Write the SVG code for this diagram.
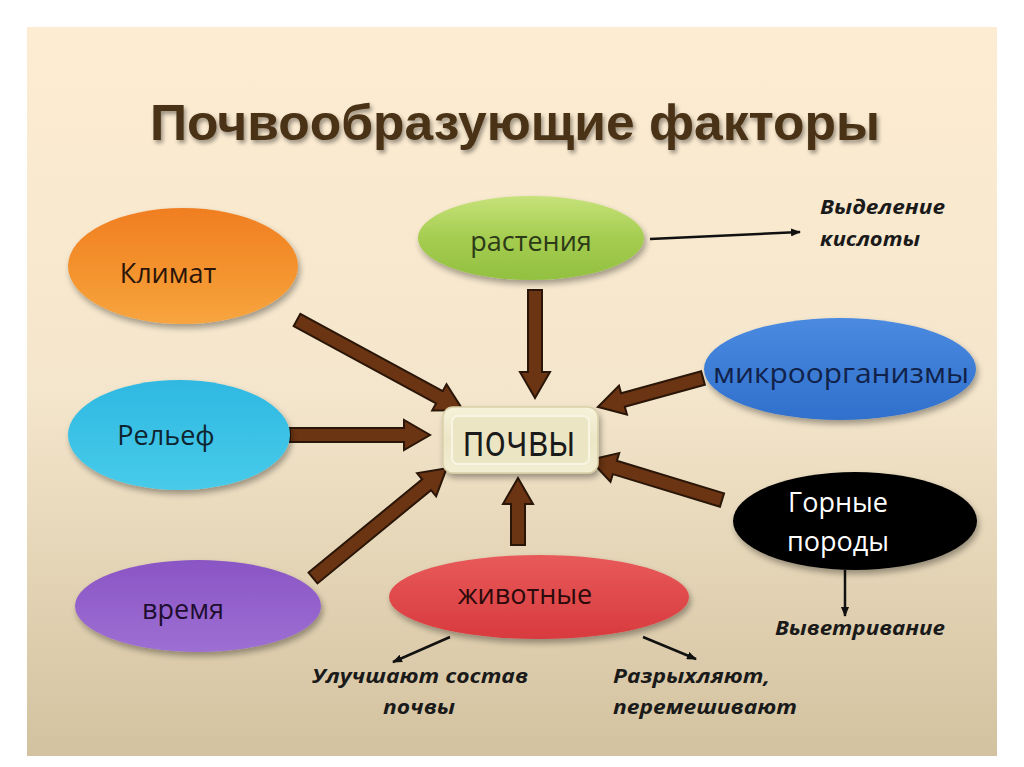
<svg xmlns="http://www.w3.org/2000/svg" width="1024" height="767" viewBox="0 0 1024 767">
  <defs>
    <linearGradient id="bg" x1="0" y1="0" x2="0" y2="1">
      <stop offset="0" stop-color="#fdecd2"/>
      <stop offset="0.5" stop-color="#f4e6cc"/>
      <stop offset="1" stop-color="#d3c29f"/>
    </linearGradient>
    <linearGradient id="gOrange" x1="0" y1="0" x2="0" y2="1">
      <stop offset="0" stop-color="#f07e22"/>
      <stop offset="0.6" stop-color="#f4952f"/>
      <stop offset="1" stop-color="#f7a540"/>
    </linearGradient>
    <linearGradient id="gCyan" x1="0" y1="0" x2="0" y2="1">
      <stop offset="0" stop-color="#2fb8e2"/>
      <stop offset="1" stop-color="#47cbea"/>
    </linearGradient>
    <linearGradient id="gPurple" x1="0" y1="0" x2="0" y2="1">
      <stop offset="0" stop-color="#8a55c4"/>
      <stop offset="1" stop-color="#9d6fd3"/>
    </linearGradient>
    <linearGradient id="gGreen" x1="0" y1="0" x2="0" y2="1">
      <stop offset="0" stop-color="#c6e27a"/>
      <stop offset="0.5" stop-color="#a5cd50"/>
      <stop offset="1" stop-color="#92c040"/>
    </linearGradient>
    <linearGradient id="gBlue" x1="0" y1="0" x2="0" y2="1">
      <stop offset="0" stop-color="#4a8ae0"/>
      <stop offset="1" stop-color="#3070cc"/>
    </linearGradient>
    <linearGradient id="gRed" x1="0" y1="0" x2="0" y2="1">
      <stop offset="0" stop-color="#e85a5a"/>
      <stop offset="1" stop-color="#d83a3e"/>
    </linearGradient>
    <linearGradient id="gBox" x1="0" y1="0" x2="0" y2="1">
      <stop offset="0" stop-color="#f6f2da"/>
      <stop offset="0.5" stop-color="#ece6c6"/>
      <stop offset="1" stop-color="#f3eed2"/>
    </linearGradient>
    <filter id="shadow" x="-20%" y="-20%" width="140%" height="150%">
      <feGaussianBlur in="SourceAlpha" stdDeviation="3"/>
      <feOffset dx="2" dy="4" result="b"/>
      <feComponentTransfer><feFuncA type="linear" slope="0.35"/></feComponentTransfer>
      <feMerge><feMergeNode/><feMergeNode in="SourceGraphic"/></feMerge>
    </filter>
    <filter id="tshadow" x="-5%" y="-20%" width="110%" height="150%">
      <feGaussianBlur in="SourceAlpha" stdDeviation="2"/>
      <feOffset dx="2" dy="3"/>
      <feComponentTransfer><feFuncA type="linear" slope="0.4"/></feComponentTransfer>
      <feMerge><feMergeNode/><feMergeNode in="SourceGraphic"/></feMerge>
    </filter>
    <marker id="thin" markerWidth="10" markerHeight="8" refX="9" refY="4" orient="auto" markerUnits="userSpaceOnUse">
      <path d="M0,0 L10,4 L0,8 Z" fill="#111"/>
    </marker>
  </defs>
  <style>
    .lbl { font-family: "Open Sans", "Liberation Sans", sans-serif; font-size: 27px; text-anchor: middle; }
    .note { font-family: "Open Sans", "Liberation Sans", sans-serif; font-size: 20px; font-style: italic; font-weight: bold; fill: #1a1a1a; }
    .big { fill: #6b3412; stroke: #2a1608; stroke-width: 2; stroke-linejoin: miter; }
    .thinline { stroke: #111; stroke-width: 2.5; fill: none; marker-end: url(#thin); }
  </style>

  <rect x="0" y="0" width="1024" height="767" fill="#ffffff"/>
  <rect x="27" y="27" width="970" height="729" fill="url(#bg)"/>

  <text x="515" y="140" font-family="Liberation Sans, Arial, sans-serif" font-size="50" font-weight="bold" fill="#4a3317" text-anchor="middle" textLength="730" lengthAdjust="spacingAndGlyphs" filter="url(#tshadow)">Почвообразующие факторы</text>

  <g id="connectors">
    <polygon class="big" transform="translate(297,320) rotate(28.5)" points="0,-7 162,-7 162,-15 189,0 162,15 162,7 0,7"/>
    <polygon class="big" transform="translate(290,435)" points="0,-7 114,-7 114,-15 140,0 114,15 114,7 0,7"/>
    <polygon class="big" transform="translate(313,578) rotate(-39.4)" points="0,-7 147,-7 147,-15 173,0 147,15 147,7 0,7"/>
    <polygon class="big" transform="translate(535,290) rotate(90)" points="0,-7 82,-7 82,-15 108,0 82,15 82,7 0,7"/>
    <polygon class="big" transform="translate(703,378) rotate(164.6)" points="0,-7 83,-7 83,-15 109,0 83,15 83,7 0,7"/>
    <polygon class="big" transform="translate(722,500) rotate(-163.1)" points="0,-7 112,-7 112,-15 138,0 112,15 112,7 0,7"/>
    <polygon class="big" transform="translate(518,545) rotate(-90)" points="0,-7 41,-7 41,-15 67,0 41,15 41,7 0,7"/>
    <line class="thinline" x1="650" y1="239" x2="800" y2="232"/>
    <line class="thinline" x1="845" y1="570" x2="845" y2="616"/>
    <line class="thinline" x1="450" y1="637" x2="393" y2="662"/>
    <line class="thinline" x1="643" y1="637" x2="696" y2="659"/>
  </g>

  <g id="soil">
    <rect x="443" y="407" width="155" height="66" rx="10" fill="url(#gBox)" stroke="#d8d0a8" stroke-width="1.5" filter="url(#shadow)"/>
    <rect x="452" y="416" width="137" height="48" rx="6" fill="#ebe5c4" stroke="#f8f5e4" stroke-width="2"/>
    <text x="519" y="456" font-family="Open Sans, Liberation Sans, sans-serif" font-size="44" fill="#1a1a1a" text-anchor="middle" textLength="113" lengthAdjust="spacingAndGlyphs">почвы</text>
  </g>

  <g id="klimat">
    <ellipse cx="183" cy="266" rx="115" ry="58" fill="url(#gOrange)" filter="url(#shadow)"/>
    <text class="lbl" x="168" y="283" fill="#2b1408">Климат</text>
  </g>

  <g id="relief">
    <ellipse cx="179" cy="435" rx="111" ry="55" fill="url(#gCyan)" filter="url(#shadow)"/>
    <text class="lbl" x="166" y="445" fill="#0e2530">Рельеф</text>
  </g>

  <g id="vremya">
    <ellipse cx="198" cy="606" rx="123" ry="46" fill="url(#gPurple)" filter="url(#shadow)"/>
    <text class="lbl" x="183" y="619" fill="#1e0e30">время</text>
  </g>

  <g id="rasteniya">
    <ellipse cx="531" cy="238" rx="113" ry="42" fill="url(#gGreen)" filter="url(#shadow)"/>
    <text class="lbl" x="531" y="251" fill="#2c3a18">растения</text>
    <text class="note" x="820" y="214" textLength="125" lengthAdjust="spacingAndGlyphs">Выделение</text>
    <text class="note" x="820" y="246" textLength="100" lengthAdjust="spacingAndGlyphs">кислоты</text>
  </g>

  <g id="mikro">
    <ellipse cx="840" cy="369" rx="136" ry="51" fill="url(#gBlue)" filter="url(#shadow)"/>
    <text class="lbl" x="841" y="383" fill="#11224a" textLength="256" lengthAdjust="spacingAndGlyphs">микроорганизмы</text>
  </g>

  <g id="gornye">
    <ellipse cx="855" cy="521" rx="122" ry="49" fill="#060606" filter="url(#shadow)"/>
    <text class="lbl" x="838" y="512" fill="#ffffff">Горные</text>
    <text class="lbl" x="838" y="551" fill="#ffffff">породы</text>
    <text class="note" x="775" y="635" textLength="170" lengthAdjust="spacingAndGlyphs">Выветривание</text>
  </g>

  <g id="zhivotnye">
    <ellipse cx="539" cy="597" rx="150" ry="42" fill="url(#gRed)" filter="url(#shadow)"/>
    <text class="lbl" x="525" y="604" fill="#2a0a0a">животные</text>
    <text class="note" x="312" y="683" textLength="216" lengthAdjust="spacingAndGlyphs">Улучшают  состав</text>
    <text class="note" x="383" y="714" textLength="72" lengthAdjust="spacingAndGlyphs">почвы</text>
    <text class="note" x="613" y="683" textLength="157" lengthAdjust="spacingAndGlyphs">Разрыхляют,</text>
    <text class="note" x="613" y="714" textLength="184" lengthAdjust="spacingAndGlyphs">перемешивают</text>
  </g>
</svg>
